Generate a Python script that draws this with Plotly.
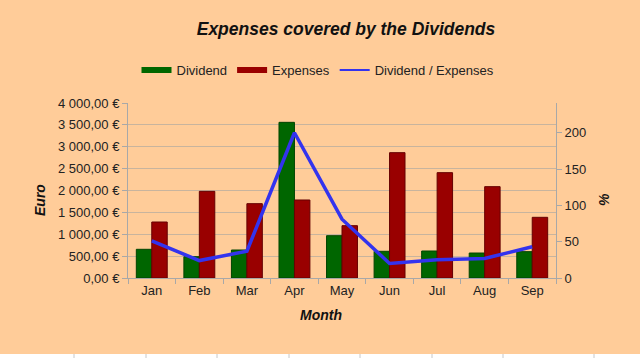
import plotly.graph_objects as go

months = ["Jan", "Feb", "Mar", "Apr", "May", "Jun", "Jul", "Aug", "Sep"]
dividend = [656, 487, 640, 3558, 967, 610, 617, 571, 602]
expenses = [1280, 1981, 1699, 1783, 1196, 2865, 2408, 2088, 1387]
ratio_pct = [51, 24, 37, 200, 81, 20, 25, 27, 43]

euro_ticks = [0, 500, 1000, 1500, 2000, 2500, 3000, 3500, 4000]
euro_labels = ["0,00 €", "500,00 €", "1 000,00 €", "1 500,00 €", "2 000,00 €",
               "2 500,00 €", "3 000,00 €", "3 500,00 €", "4 000,00 €"]
pct_ticks = [0, 50, 100, 150, 200]

BG = "#FFCC99"
FONT = "Liberation Sans, Arial, sans-serif"
TXT = "#222222"
GREEN = "#006600"
RED = "#990000"
BLUE = "#3333EE"

fig = go.Figure()
fig.add_trace(go.Bar(x=months, y=dividend, name="Dividend", showlegend=False,
                     marker=dict(color=GREEN, line=dict(color="#004400", width=1))))
fig.add_trace(go.Bar(x=months, y=expenses, name="Expenses", showlegend=False,
                     marker=dict(color=RED, line=dict(color="#660000", width=1))))
fig.add_trace(go.Scatter(x=months, y=ratio_pct, name="Dividend / Expenses", yaxis="y2",
                         mode="lines", line=dict(color=BLUE, width=3.5), showlegend=False))
# legend entries (wide swatches like the original)
fig.add_trace(go.Scatter(x=[None], y=[None], name="Dividend", mode="lines",
                         line=dict(color=GREEN, width=6)))
fig.add_trace(go.Scatter(x=[None], y=[None], name="Expenses", mode="lines",
                         line=dict(color=RED, width=6)))
fig.add_trace(go.Scatter(x=[None], y=[None], name="Dividend / Expenses", mode="lines",
                         line=dict(color=BLUE, width=2)))

fig.update_layout(
    width=640, height=358,
    paper_bgcolor=BG, plot_bgcolor=BG,
    margin=dict(l=128, r=84, t=103, b=80),
    font=dict(family=FONT, size=13, color=TXT),
    barmode="group", bargap=0.35, bargroupgap=0,
    title=dict(text="<b><i>Expenses covered by the Dividends</i></b>",
               x=346/640, xanchor="center", y=1-29/358, yanchor="middle",
               font=dict(size=17.5, color="#111111")),
    legend=dict(orientation="h", x=(318-128)/428, xanchor="center",
                y=(278-70)/175, yanchor="middle", bgcolor="rgba(0,0,0,0)",
                font=dict(size=13, color=TXT), itemwidth=30, traceorder="normal"),
    xaxis=dict(showgrid=False, showline=True, linecolor="#A8A8A8", linewidth=1,
               ticks="outside", tickson="boundaries", ticklen=5, tickcolor="#A8A8A8",
               tickfont=dict(size=13, color=TXT)),
    yaxis=dict(range=[0, 4000], tickvals=euro_ticks, ticktext=euro_labels,
               showgrid=True, gridcolor="#C8B49E", gridwidth=1,
               showline=True, linecolor="#A8A8A8", ticks="outside", ticklen=5,
               tickcolor="#A8A8A8", zeroline=False, tickfont=dict(size=13, color=TXT)),
    yaxis2=dict(range=[0, 241], tickvals=pct_ticks, overlaying="y", side="right",
                showgrid=False, showline=True, linecolor="#A8A8A8", ticks="outside",
                ticklen=5, tickcolor="#A8A8A8", zeroline=False,
                tickfont=dict(size=13, color=TXT)),
    annotations=[
        dict(text="<b><i>Euro</i></b>", xref="paper", yref="paper",
             x=(30-128)/428, y=(278-200)/175, showarrow=False, textangle=-90,
             font=dict(size=14, color="#111111")),
        dict(text="<b><i>%</i></b>", xref="paper", yref="paper",
             x=(614-128)/428, y=(278-200)/175, showarrow=False, textangle=-90,
             font=dict(size=14, color="#111111")),
        dict(text="<b><i>Month</i></b>", xref="paper", yref="paper",
             x=(321-128)/428, y=(278-325)/175, showarrow=False,
             font=dict(size=14, color="#111111")),
    ],
    shapes=[
        dict(type="rect", xref="paper", yref="paper", x0=-128/428, x1=512/428,
             y0=(278-358)/175, y1=(278-354)/175, fillcolor="white", line=dict(width=0),
             layer="above"),
    ] + [
        dict(type="line", xref="paper", yref="paper", x0=(px-128)/428, x1=(px-128)/428,
             y0=(278-358)/175, y1=(278-354)/175, line=dict(color="#C8C8C8", width=1))
        for px in [74, 146, 217, 289, 360, 432, 503, 594]
    ],
)

fig.write_html("out.html", config={"displayModeBar": False})

with open("out.html", encoding="utf-8") as f:
    html = f.read()
html = html.replace("<body>", '<body style="margin:0;padding:0;">', 1)
with open("out.html", "w", encoding="utf-8") as f:
    f.write(html)
